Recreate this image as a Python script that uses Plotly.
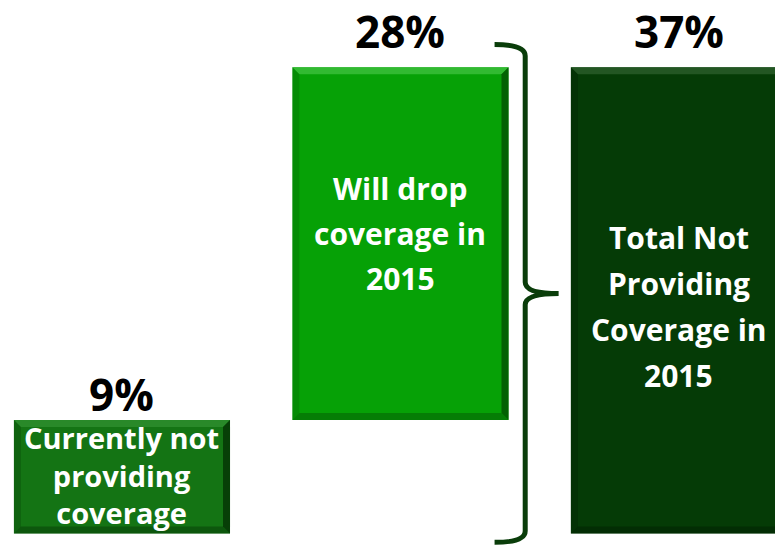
import plotly.graph_objects as go

# waterfall style: current + will drop = total
linhas = [["Currently not", "providing", "coverage"],
          ["Will drop", "coverage in", "2015"],
          ["Total Not", "Providing", "Coverage in", "2015"]]
valores = [9, 28, 37]
bases = [0, 9, 0]
rotulos = ["9%", "28%", "37%"]
cores = ["#147414", "#06a106", "#053b06"]
cores_claras = ["#2e8e2e", "#3cc03c", "#2a5e2a"]
cores_escuras = ["#063a06", "#035a03", "#021f02"]

LARGURA = 0.776
PX_X = 278.5   # px por unidade em x
PX_Y = 12.6    # px por % em y
posicoes = list(range(len(valores)))

fig = go.Figure()

fig.add_trace(go.Bar(
    x=posicoes,
    y=valores,
    base=bases,
    width=LARGURA,
    marker=dict(color=cores, line=dict(width=0)),
    hoverinfo="skip",
    showlegend=False,
))

# bevel nas bordas
bx = 7 / PX_X
by = 7 / PX_Y
for i in posicoes:
    xl, xr = i - LARGURA / 2, i + LARGURA / 2
    yb, yt = bases[i], bases[i] + valores[i]
    topo = f"M {xl},{yt} L {xr},{yt} L {xr - bx},{yt - by} L {xl + bx},{yt - by} Z"
    direita = f"M {xr},{yt} L {xr},{yb} L {xr - bx},{yb + by} L {xr - bx},{yt - by} Z"
    baixo = f"M {xl},{yb} L {xr},{yb} L {xr - bx},{yb + by} L {xl + bx},{yb + by} Z"
    esquerda = f"M {xl},{yt} L {xl},{yb} L {xl + bx},{yb + by} L {xl + bx},{yt - by} Z"
    for p, c, op in [(topo, cores_claras[i], 0.8), (direita, cores_escuras[i], 0.9),
                     (baixo, cores_escuras[i], 0.5), (esquerda, cores_escuras[i], 0.3)]:
        fig.add_shape(type="path", path=p, xref="x", yref="y",
                      fillcolor=c, opacity=op, line=dict(width=0), layer="above")

desloc_rotulo = [-6, 4, 4]
espacamento = [None, 45, 46]   # None -> texto unico com <br>
desloc_centro = [2, 10, -6]
for i in posicoes:
    topo = bases[i] + valores[i]
    meio = bases[i] + valores[i] / 2
    fig.add_annotation(
        x=i, y=topo, text=f"<b>{rotulos[i]}</b>",
        showarrow=False, yanchor="bottom", yshift=desloc_rotulo[i],
        font=dict(family="Open Sans", size=44, color="black"),
    )
    if espacamento[i] is None:
        fig.add_annotation(
            x=i, y=meio, text="<b>" + "<br>".join(linhas[i]) + "</b>",
            showarrow=False, yanchor="middle", yshift=desloc_centro[i],
            font=dict(family="Open Sans", size=29, color="white"),
        )
        continue
    n = len(linhas[i])
    for k, t in enumerate(linhas[i]):
        fig.add_annotation(
            x=i, y=meio, text=f"<b>{t}</b>",
            showarrow=False, yanchor="middle",
            yshift=desloc_centro[i] - (k - (n - 1) / 2) * espacamento[i],
            font=dict(family="Open Sans", size=30, color="white"),
        )

# chave entre a barra 2 e o total
total = valores[2]
x0 = 1 + LARGURA / 2 - 0.05
xv = x0 + 0.11
xp = xv + 0.12
y_top = total + 1.8
y_bot = -0.7
y_mid = (y_top + y_bot) / 2
d = 0.9
path = (f"M {x0},{y_top} Q {xv},{y_top} {xv},{y_top - d} "
        f"L {xv},{y_mid + d} Q {xv},{y_mid} {xp},{y_mid} "
        f"Q {xv},{y_mid} {xv},{y_mid - d} "
        f"L {xv},{y_bot + d} Q {xv},{y_bot} {x0},{y_bot}")
fig.add_shape(type="path", path=path, xref="x", yref="y",
              line=dict(color="#0a3d0a", width=5))

fig.update_layout(
    width=775, height=546,
    margin=dict(l=0, r=0, t=0, b=0),
    plot_bgcolor="white", paper_bgcolor="white",
    xaxis=dict(range=[-0.438, 2.345], visible=False),
    yaxis=dict(range=[-0.99, 42.34], visible=False),
)

fig.write_html("out.html", config={"displayModeBar": False},
               post_script="document.body.style.margin='0';")
